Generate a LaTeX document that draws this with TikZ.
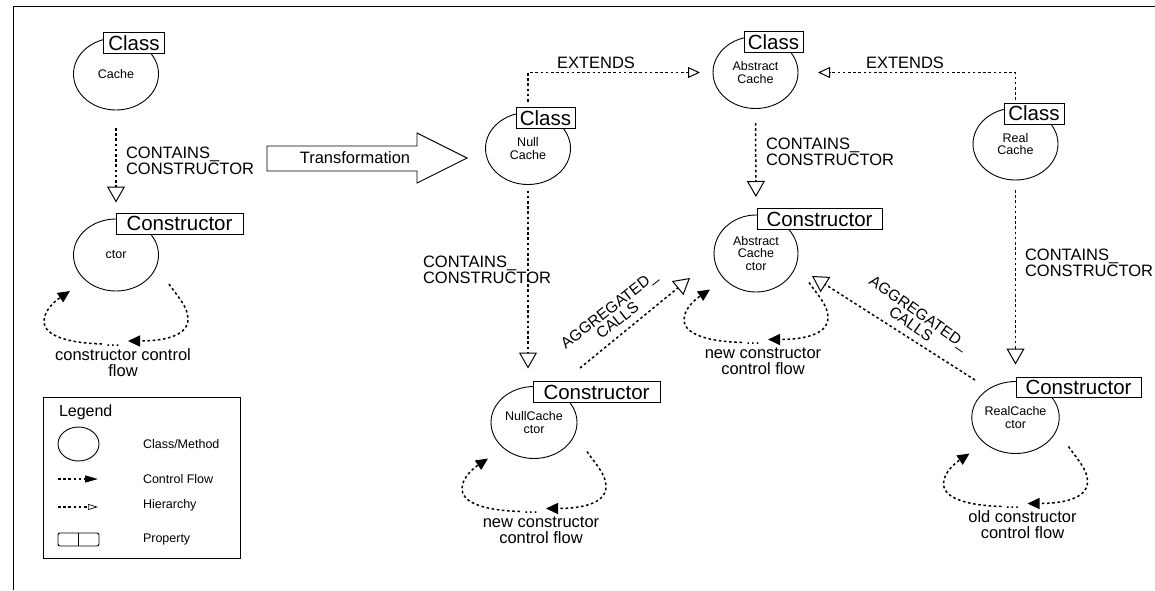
\documentclass[tikz,border=0pt]{standalone}
\usepackage{fontspec}
\setmainfont{Liberation Sans}
\usetikzlibrary{arrows.meta,shapes.geometric,calc}

\tikzset{
  every node/.style={inner sep=0pt, outer sep=0pt},
  ent/.style={draw, ellipse, line width=0.9pt, minimum width=85pt, minimum height=72pt,
    align=center, font=\fontsize{12.5}{12.7}\selectfont},
  prop/.style={draw, fill=white, line width=0.9pt, minimum height=21pt,
    font=\fontsize{20.5}{22}\selectfont},
  lbl/.style={font=\fontsize{16.5}{16}\selectfont, align=left},
  flowtxt/.style={font=\fontsize{16.5}{16}\selectfont, align=center},
  agglbl/.style={font=\fontsize{15.5}{14}\selectfont, align=center},
  legtxt/.style={font=\fontsize{12.5}{14}\selectfont},
  link/.style={line width=1.5pt, dash pattern=on 2.6pt off 2.6pt},
  contains/.style={link, -{Triangle[open, length=16pt, width=18pt, line width=1pt]}},
  extends/.style={link, -{Triangle[open, length=12pt, width=11pt, line width=1pt]}},
  cflow/.style={link, -{Triangle[length=12pt, width=11pt]}},
  cfloop/.pic={
    \draw[cflow] (-14,89) .. controls (-45,88) and (-72,82) .. (-72,66)
                 .. controls (-72,54) and (-58,44) .. (-46,36);
    \draw[cflow] (53,29) .. controls (62,42) and (72,52) .. (72,64)
                 .. controls (72,82) and (45,86) .. (12,86);
    \node[flowtxt, anchor=base] (-dots) at (-3,91) {...};
    \node[flowtxt] (-text) at (7,107.5) {#1};
  }
}

\begin{document}
\begin{tikzpicture}[x=1pt, y=-1pt]
\useasboundingbox (0,0) rectangle (1155,590);

% page frame (top and left edges)
\draw[line width=0.9pt] (1155,6) -- (13,6) -- (13,590);

% ---------- original class ----------
\node[ent] (cache) at (116,74) {Cache};
\node[prop, minimum width=61pt] (cache-p) at (134,43) {Class};
\node[ent] (ctor) at (116,255) {ctor};
\node[prop, minimum width=127pt] (ctor-p) at (179.5,223.5) {Constructor};
\draw[contains, shorten <=18pt, shorten >=16.5pt] (cache.south) -- (ctor.north);
\node[lbl, anchor=west] (cache-lc) at (126,161) {CONTAINS\_\\CONSTRUCTOR};
\pic (ctor-loop) at (ctor) {cfloop={constructor control\\flow}};

% ---------- transformation arrow ----------
\draw[line width=0.9pt] (267,146) -- (417,146) -- (417,133) -- (467,158)
  -- (417,183) -- (417,171) -- (267,171) -- cycle;
\node[lbl] (trans) at (355,158) {Transformation};

% ---------- transformed classes ----------
\node[ent] (null) at (528,148.5) {Null\\Cache};
\node[prop, minimum width=59pt] (null-p) at (545.5,118) {Class};
\node[ent] (abs) at (755.5,72.5) {Abstract\\Cache};
\node[prop, minimum width=59pt] (abs-p) at (773.5,42) {Class};
\node[ent] (real) at (1015.5,144) {Real\\Cache};
\node[prop, minimum width=60pt] (real-p) at (1034,113.5) {Class};

\node[ent, minimum width=84pt, minimum height=77pt] (absctor) at (756,253.5) {Abstract\\Cache\\ctor};
\node[prop, minimum width=125pt] (absctor-p) at (819.5,219) {Constructor};
\node[ent, minimum width=86pt] (nullctor) at (534,422.5) {NullCache\\ctor};
\node[prop, minimum width=127pt] (nullctor-p) at (596.5,392) {Constructor};
\node[ent] (realctor) at (1015.5,417.5) {RealCache\\ctor};
\node[prop, minimum width=125pt, minimum height=20pt] (realctor-p) at (1078.5,387) {Constructor};

% hierarchy
\draw[extends, shorten >=13pt] ($(null.north |- null-p.north)+(0,-6)$) |- (abs.west);
\node[lbl, anchor=base west] (ext-l) at (557,68) {EXTENDS};
\draw[extends, shorten >=20pt] ($(real.north |- real-p.north)+(0,-3)$) |- (abs.east);
\node[lbl, anchor=base west] (ext-r) at (866,68) {EXTENDS};

% constructors
\draw[contains, shorten <=6pt, shorten >=18pt] (null.south) -- (null.south |- nullctor.north);
\node[lbl, anchor=west] (null-lc) at (423,270) {CONTAINS\_\\CONSTRUCTOR};
\draw[contains, shorten <=14.5pt, shorten >=18pt] (abs.south) -- (absctor.north);
\node[lbl, anchor=west] (abs-lc) at (766,151.5) {CONTAINS\_\\CONSTRUCTOR};
\draw[contains, shorten <=10pt, shorten >=17pt] (real.south) -- (realctor.north);
\node[lbl, anchor=west] (real-lc) at (1025,262.5) {CONTAINS\_\\CONSTRUCTOR};

% aggregated calls
\draw[contains] ([shift={(46,-54.5)}]nullctor.center) -- ([shift={(-66,24.5)}]absctor.center);
\node[agglbl, rotate=38] (agg-l) at (613,315) {AGGREGATED\_\\CALLS};
\draw[contains] ([shift={(-40.5,-37.5)}]realctor.center) -- ([shift={(56,22.5)}]absctor.center);
\node[agglbl, rotate=-35] (agg-r) at (915,318.5) {AGGREGATED\_\\CALLS};

% control flow loops
\pic (absctor-loop) at (absctor) {cfloop={new constructor\\control flow}};
\pic (nullctor-loop) at (nullctor) {cfloop={new constructor\\control flow}};
\pic (realctor-loop) at (realctor) {cfloop={old constructor\\control flow}};

% ---------- legend ----------
\node[draw, line width=0.9pt, minimum width=197pt, minimum height=161pt, anchor=north west] (legend) at (43,397) {};
\node[font=\fontsize{16}{18}\selectfont, anchor=west] (leg-title) at (59,412) {Legend};
\node[draw, ellipse, line width=0.9pt, minimum width=41pt, minimum height=34pt] (leg-circ) at (78.5,444) {};
\node[legtxt, anchor=west] (leg-cm) at (143,444) {Class/Method};
\coordinate (leg-cf-a) at (58,479);
\coordinate (leg-cf-b) at (98,479);
\draw[line width=1.3pt, dash pattern=on 2.6pt off 2.6pt, -{Triangle[length=13pt, width=7pt]}] (leg-cf-a) -- (leg-cf-b);
\node[legtxt, anchor=west] (leg-cf) at (143,479) {Control Flow};
\coordinate (leg-h-a) at (58,507);
\coordinate (leg-h-b) at (98,507);
\draw[line width=1.3pt, dash pattern=on 2.6pt off 2.6pt, -{Triangle[open, length=10pt, width=6pt, line width=0.7pt]}] (leg-h-a) -- (leg-h-b);
\node[legtxt, anchor=west] (leg-h) at (143,505) {Hierarchy};
\node[draw, line width=0.9pt, rounded corners=2pt, minimum width=41pt, minimum height=13pt] (leg-prop) at (78.5,539.5) {};
\draw[line width=0.9pt] (leg-prop.north) -- (leg-prop.south);
\node[legtxt, anchor=west] (leg-p) at (143,539) {Property};
\end{tikzpicture}
\end{document}
